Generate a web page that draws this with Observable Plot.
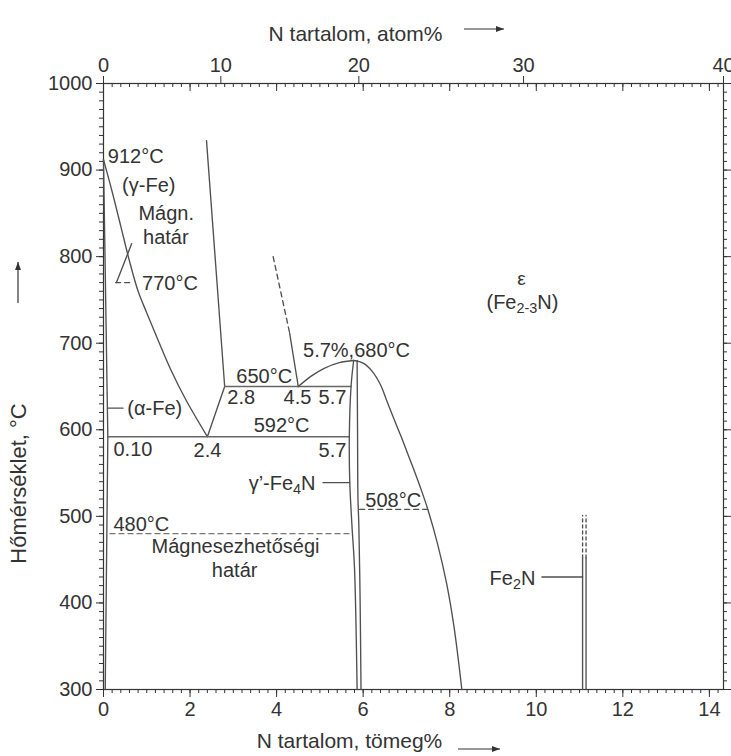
<!DOCTYPE html>
<html><head><meta charset="utf-8">
<script src="https://cdn.jsdelivr.net/npm/d3@7"></script>
<script src="https://cdn.jsdelivr.net/npm/@observablehq/plot@0.6"></script>
<style>body{margin:0;background:#fff}</style>
</head><body><div id="chart"></div>
<script>
const FONT = "Liberation Sans, Arial, Helvetica, sans-serif";
// ---- tick label data ----
const wtMajor = [0, 2, 4, 6, 8, 10, 12, 14];
const atLabels = [0, 10, 20, 30, 40];
const tempMajor = [300, 400, 500, 600, 700, 800, 900, 1000];
// at% -> wt% conversion (scale of the top axis)
const atToWt = a => 100 * 14.007 * a / (14.007 * a + 55.845 * (100 - a));
const wtToAt = w => 100 * (w / 14.007) / (w / 14.007 + (100 - w) / 55.845);
const xMax = atToWt(40);
const wtMinor = d3.range(0, 14.31, 0.2);
const tempMinor = d3.range(300, 1001, 10);

// ---- phase boundaries (wt% N, °C) ----
const gammaCurve = [[0,912],[0.2,875],[0.4,835],[0.6,795],[0.8,760],[1.0,735],[1.25,705],[1.55,670],[1.9,635],[2.4,592]];
const alphaGamma = [[0,912],[0.1,592]];
const alphaSolvus = [[0.1,592],[0.04,300]];
const gammaEpsBoundary = [[2.38,934],[2.8,650]];
const eutectoidV = [[2.8,650],[2.4,592]];
const iso650 = [[2.8,650],[5.72,650]];
const iso592 = [[0.1,592],[5.68,592]];
const epsLeftDashed = [[3.92,800],[4.3,712]];
const epsLeftSolid = [[4.3,712],[4.5,650]];
const domeLeft = [[4.5,650],[4.8,662],[5.1,671],[5.45,677.5],[5.78,680]];
const domeRight = [[5.78,680],[6.0,677],[6.2,668],[6.4,652],[6.55,633],[6.7,614],[6.87,593],[7.04,571],[7.2,550],[7.36,528],[7.5,507],[7.72,468],[7.93,422],[8.1,372],[8.28,300]];
const gpLeft = [[5.78,680],[5.72,650],[5.68,592],[5.69,540],[5.74,490],[5.8,440],[5.86,300]];
const gpRight = [[5.86,680],[5.87,600],[5.88,520],[5.9,490],[5.93,400],[5.95,300]];
const fe2nA = [[11.07,300],[11.07,452]];
const fe2nB = [[11.15,300],[11.15,452]];
const fe2nADash = [[11.07,452],[11.07,501]];
const fe2nBDash = [[11.15,452],[11.15,501]];
const magnLine = [[0.3,770],[0.65,815]];
const iso770 = [[0.28,770],[0.69,770]];
const iso480 = [[0.15,480],[5.75,480]];
const iso508 = [[5.92,508],[7.5,508]];
const leaderAlpha = [[0.1,625],[0.45,625]];
const leaderGp = [[5.07,539],[5.69,539]];
const leaderFe2N = [[10.13,430],[11.07,430]];

// ---- labels ----
const labelsStart = [
  {t:"912°C", x:0.1, y:916},
  {t:"(γ-Fe)", x:0.43, y:882},
  {t:"770°C", x:0.89, y:769},
  {t:"5.7%,680°C", x:4.61, y:691},
  {t:"650°C", x:3.07, y:662},
  {t:"2.8", x:2.86, y:637},
  {t:"4.5", x:4.16, y:637},
  {t:"5.7", x:4.97, y:637},
  {t:"592°C", x:3.47, y:605},
  {t:"2.4", x:2.08, y:576},
  {t:"5.7", x:4.97, y:576},
  {t:"0.10", x:0.23, y:577},
  {t:"508°C", x:6.05, y:518},
  {t:"480°C", x:0.23, y:491},
  {t:"(α-Fe)", x:0.55, y:625}
];
const labelsMiddle = [
  {t:"Mágn.", x:1.45, y:850},
  {t:"határ", x:1.44, y:822},
  {t:"Mágnesezhetőségi", x:3.05, y:465},
  {t:"határ", x:3.03, y:437},
  {t:"(Fe_{2-3}N)", x:9.68, y:747}
];
const labelsEps = [{t:"ε", x:9.66, y:774}];
const labelsEnd = [
  {t:"γ’-Fe_{4}N", x:4.9, y:538},
  {t:"Fe_{2}N", x:9.98, y:428}
];

const LINE = "#505050", TXT = "#333", AX = "#333";
const FW = 620, FH = 606; // frame size in px (731-103-8, 756-83-67)
const ln = (arr, o = {}) => Plot.line(arr, {x: d => d[0], y: d => d[1], stroke: LINE, strokeWidth: 1.35, ...o});
const dash = (arr, o = {}) => ln(arr, {strokeDasharray: "5,4", ...o});
const txt = (arr, anchor, size = 20) => Plot.text(arr, {x: "x", y: "y", text: "t", textAnchor: anchor, fill: TXT, fontSize: size, fontFamily: FONT});

const chart = Plot.plot({
  width: 731, height: 756,
  marginLeft: 103, marginRight: 8, marginTop: 83, marginBottom: 67,
  x: {domain: [0, xMax]},
  y: {domain: [300, 1000]},
  style: {fontFamily: FONT, fontSize: "20px", color: TXT, background: "#fff"},
  marks: [
    // bottom: outward wt% ticks
    Plot.tickX(wtMinor, {x: d => d, insetTop: FH, insetBottom: -4, stroke: AX}),
    Plot.axisX({anchor: "bottom", ticks: wtMajor, tickSize: 8, tickPadding: 4, tickFormat: d => String(d), label: null, stroke: AX, fill: TXT, fontSize: 20}),
    // top: inward wt% ticks, outward at% ticks with labels
    Plot.tickX(wtMinor, {x: d => d, insetBottom: FH - 4, stroke: AX}),
    Plot.tickX(wtMajor, {x: d => d, insetBottom: FH - 8, stroke: AX}),
    Plot.axisX({anchor: "top", ticks: atLabels.map(atToWt), tickSize: 8, tickPadding: 4, tickFormat: d => String(Math.round(wtToAt(d))), label: null, stroke: AX, fill: TXT, fontSize: 20}),
    // left / right: outward temperature ticks
    Plot.tickY(tempMinor, {y: d => d, insetLeft: -4, insetRight: FW, stroke: AX}),
    Plot.axisY({anchor: "left", ticks: tempMajor, tickSize: 7, tickPadding: 4, tickFormat: d => String(d), label: null, stroke: AX, fill: TXT, fontSize: 20}),
    Plot.tickY(tempMinor, {y: d => d, insetLeft: FW, insetRight: -4, stroke: AX}),
    Plot.tickY(tempMajor, {y: d => d, insetLeft: FW, insetRight: -8, stroke: AX}),
    Plot.frame({stroke: AX, strokeWidth: 1.2}),
    // phase boundaries
    ln(gammaCurve, {curve: "catmull-rom"}),
    ln(alphaGamma), ln(alphaSolvus),
    ln(gammaEpsBoundary), ln(eutectoidV),
    ln(iso650, {stroke: "#666"}), ln(iso592, {stroke: "#666"}),
    dash(epsLeftDashed), ln(epsLeftSolid),
    ln(domeLeft, {curve: "catmull-rom"}),
    ln(domeRight, {curve: "catmull-rom"}),
    ln(gpLeft, {curve: "catmull-rom"}),
    ln(gpRight, {curve: "catmull-rom"}),
    ln(fe2nA), ln(fe2nB),
    dash(fe2nADash, {strokeDasharray: "3,3"}), dash(fe2nBDash, {strokeDasharray: "3,3"}),
    ln(magnLine),
    dash(iso770), dash(iso480, {stroke: "#777"}), dash(iso508),
    ln(leaderAlpha), ln(leaderGp), ln(leaderFe2N),
    // labels
    txt(labelsStart, "start"),
    txt(labelsMiddle, "middle"),
    txt(labelsEnd, "end"),
    txt(labelsEps, "middle", 19),
    // axis titles
    Plot.text(["N tartalom, atom%"], {frameAnchor: "top-left", dx: 252, dy: -57, textAnchor: "middle", fill: TXT, fontSize: 21}),
    Plot.text(["N tartalom, tömeg%"], {frameAnchor: "bottom-left", dx: 246, dy: 58, textAnchor: "middle", fill: TXT, fontSize: 21}),
    Plot.text(["Hőmérséklet, °C"], {frameAnchor: "left", dx: -85, dy: 97, rotate: -90, textAnchor: "middle", fill: TXT, fontSize: 22})
  ]
});

// subscripts: convert _{..} into tspans (baseline restored on the following part)
d3.select(chart).selectAll("text").each(function() {
  const el = d3.select(this);
  if (el.selectAll("tspan").size() > 0) return;
  const s = this.textContent;
  if (!s.includes("_{")) return;
  el.text(null);
  let shifted = false;
  s.split(/(_\{[^}]*\})/).forEach(p => {
    if (!p) return;
    if (p.startsWith("_{")) {
      el.append("tspan").attr("font-size", "0.72em").attr("dy", "0.3em").text(p.slice(2, -1));
      shifted = true;
    } else {
      const t = el.append("tspan").text(p);
      if (shifted) { t.attr("dy", "-0.216em"); shifted = false; }
    }
  });
});

// axis arrows
const svg = d3.select(chart);
const arrow = (x1, y1, x2, y2) => {
  svg.append("line").attr("x1", x1).attr("y1", y1).attr("x2", x2).attr("y2", y2).attr("stroke", "#333").attr("stroke-width", 1.2);
  const a = Math.atan2(y2 - y1, x2 - x1), L = 8, w = 3;
  const p = [[x2, y2], [x2 - L*Math.cos(a) + w*Math.sin(a), y2 - L*Math.sin(a) - w*Math.cos(a)], [x2 - L*Math.cos(a) - w*Math.sin(a), y2 - L*Math.sin(a) + w*Math.cos(a)]];
  svg.append("polygon").attr("points", p.map(d => d.join(",")).join(" ")).attr("fill", "#333");
};
arrow(464, 29, 504, 29);
arrow(458, 749, 500, 749);
arrow(18, 303, 18, 262);

document.getElementById("chart").appendChild(chart);
</script>
</body></html>
